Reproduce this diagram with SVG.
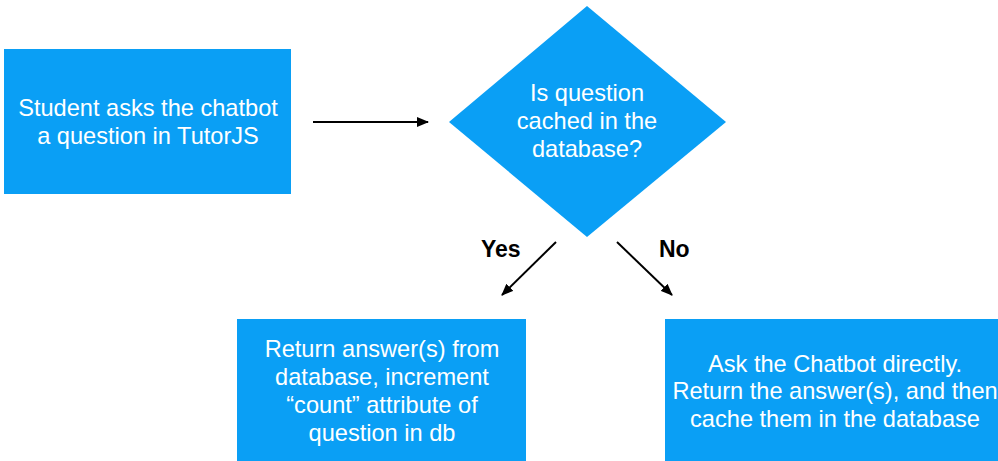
<svg xmlns="http://www.w3.org/2000/svg" width="998" height="461" viewBox="0 0 998 461">
<style>
.box{fill:#0a9ff5;}
.t{font-family:"Liberation Sans",Arial,sans-serif;font-size:23.6px;fill:#ffffff;text-anchor:middle;}
.lbl{font-family:"Liberation Sans",Arial,sans-serif;font-size:23px;font-weight:bold;fill:#000000;}
.c{stroke:#000;stroke-width:2;fill:none;marker-end:url(#ah);}
</style>
<defs>
<marker id="ah" viewBox="0 0 12 10" refX="11" refY="5" markerWidth="12" markerHeight="10" markerUnits="userSpaceOnUse" orient="auto">
<path d="M0,0 L12,5 L0,10 Z" fill="#000"/>
</marker>
</defs>
<rect width="998" height="461" fill="#ffffff"/>
<g id="node-student">
<rect class="box" x="4" y="49" width="287" height="145"/>
<text class="t" x="148" y="116">Student asks the chatbot</text>
<text class="t" x="148" y="144">a question in TutorJS</text>
</g>
<g id="node-decision">
<polygon class="box" points="587,6 726,122 587,237 449,122"/>
<text class="t" x="587" y="101">Is question</text>
<text class="t" x="587" y="129">cached in the</text>
<text class="t" x="587" y="157">database?</text>
</g>
<g id="node-yes">
<rect class="box" x="237" y="319" width="289" height="142"/>
<text class="t" x="382" y="357">Return answer(s) from</text>
<text class="t" x="382" y="385">database, increment</text>
<text class="t" x="382" y="413">“count” attribute of</text>
<text class="t" x="382" y="441">question in db</text>
</g>
<g id="node-no">
<rect class="box" x="665" y="319" width="333" height="142"/>
<text class="t" x="835" y="372">Ask the Chatbot directly.</text>
<text class="t" x="835" y="399">Return the answer(s), and then</text>
<text class="t" x="835" y="427">cache them in the database</text>
</g>
<g id="connectors">
<line class="c" x1="313" y1="122" x2="428" y2="122"/>
<line class="c" x1="556" y1="242" x2="502" y2="295"/>
<line class="c" x1="617" y1="242" x2="672" y2="295"/>
<text class="lbl" x="481" y="257">Yes</text>
<text class="lbl" x="659" y="257">No</text>
</g>
</svg>
